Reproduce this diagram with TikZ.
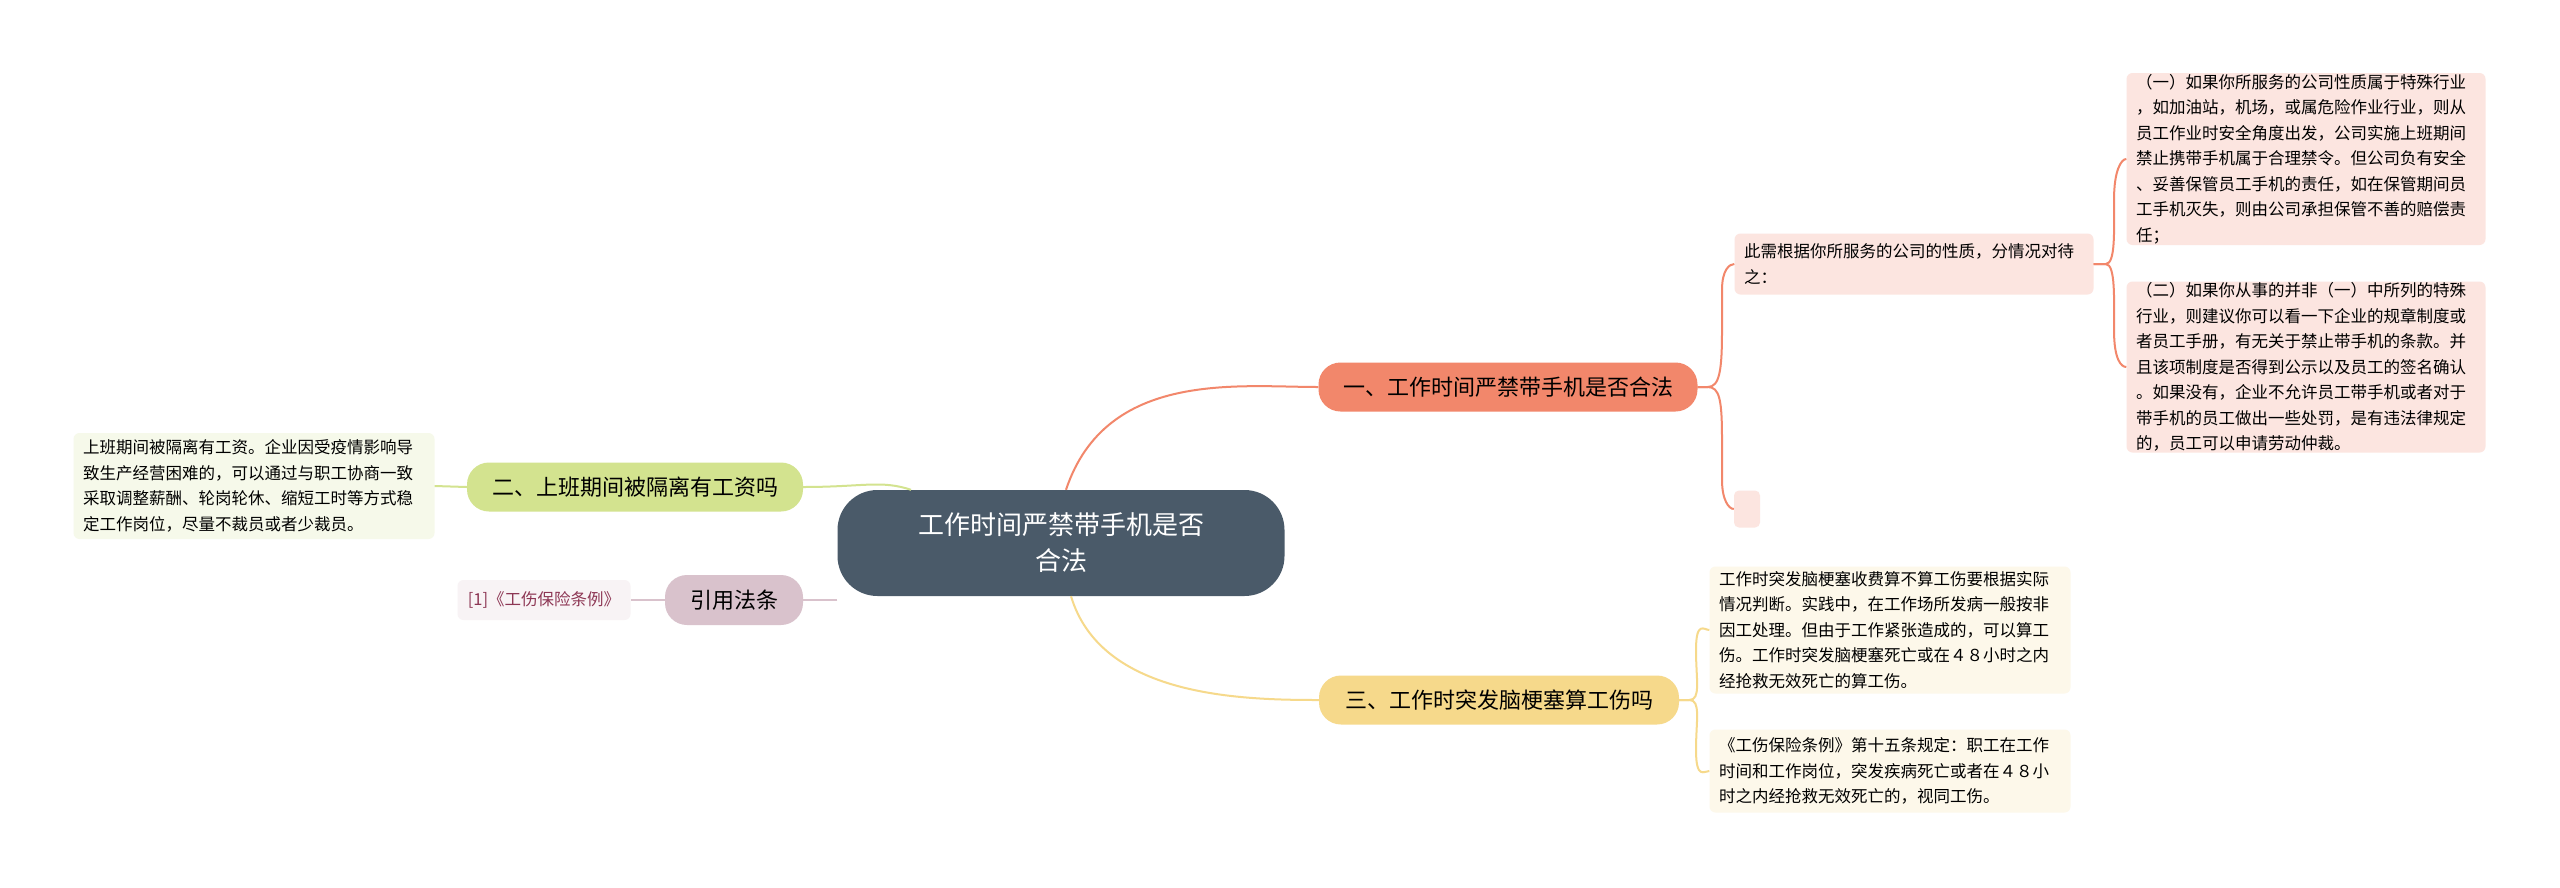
\documentclass[tikz,border=0pt]{standalone}
\usepackage{fontspec}
\setmainfont{Noto Sans CJK SC}
\begin{document}
\begin{tikzpicture}[x=1pt,y=-1pt,
 box/.style={rounded corners=6pt,inner sep=0pt,align=left,font=\fontsize{16.5}{25.5}\selectfont},
 br/.style={rounded corners=22pt,minimum height=49pt,inner xsep=18pt,font=\fontsize{22}{26}\selectfont},
 ln/.style={line width=2pt}]
\definecolor{c1}{HTML}{F2876B}\definecolor{c1l}{HTML}{FCE5E0}
\definecolor{c2}{HTML}{D3E38F}\definecolor{c2l}{HTML}{F6F9EA}
\definecolor{c3}{HTML}{F6D98B}\definecolor{c3l}{HTML}{FDF8EA}
\definecolor{c4}{HTML}{D9C2CC}\definecolor{c4l}{HTML}{F8F3F5}
\definecolor{cc}{HTML}{4A5A69}
\useasboundingbox (0,0) rectangle (2560,887);
\fill[white] (0,0) rectangle (2560,887);
% nodes
\node[fill=cc,text=white,rounded corners=40pt,minimum width=447pt,minimum height=106pt,align=center,font=\fontsize{26}{36}\selectfont] (c) at (1061,543) {工作时间严禁带手机是否\\合法};
\node[br,fill=c1,minimum width=379pt] (b1) at (1508,387) {一、工作时间严禁带手机是否合法};
\node[br,fill=c2,minimum width=336pt] (b2) at (635,487) {二、上班期间被隔离有工资吗};
\node[br,fill=c4,minimum width=138pt,minimum height=50pt] (b4) at (734,600) {引用法条};
\node[br,fill=c3,minimum width=360pt] (b3) at (1499,700) {三、工作时突发脑梗塞算工伤吗};
\node[box,fill=c1l,minimum width=359pt,minimum height=61pt,text width=340pt] (s1) at (1914,264) {此需根据你所服务的公司的性质，分情况对待\\之：};
\node[box,fill=c1l,minimum width=359pt,minimum height=172pt,text width=340pt] (l1) at (2306,159) {（一）如果你所服务的公司性质属于特殊行业\\，如加油站，机场，或属危险作业行业，则从\\员工作业时安全角度出发，公司实施上班期间\\禁止携带手机属于合理禁令。但公司负有安全\\、妥善保管员工手机的责任，如在保管期间员\\工手机灭失，则由公司承担保管不善的赔偿责\\任；};
\node[box,fill=c1l,minimum width=359pt,minimum height=171pt,text width=340pt] (l2) at (2306,367) {（二）如果你从事的并非（一）中所列的特殊\\行业，则建议你可以看一下企业的规章制度或\\者员工手册，有无关于禁止带手机的条款。并\\且该项制度是否得到公示以及员工的签名确认\\。如果没有，企业不允许员工带手机或者对于\\带手机的员工做出一些处罚，是有违法律规定\\的，员工可以申请劳动仲裁。};
\node[fill=c1l,rounded corners=5pt,minimum width=26pt,minimum height=37pt] (e1) at (1747,509) {};
\node[box,fill=c2l,minimum width=361pt,minimum height=106pt,text width=342pt] (l3) at (254,486) {上班期间被隔离有工资。企业因受疫情影响导\\致生产经营困难的，可以通过与职工协商一致\\采取调整薪酬、轮岗轮休、缩短工时等方式稳\\定工作岗位，尽量不裁员或者少裁员。};
\node[box,fill=c4l,minimum width=173pt,minimum height=40pt,align=center,text=c4!40!purple!70!black] (l4) at (544,600) {[1]《工伤保险条例》};
\node[box,fill=c3l,minimum width=361pt,minimum height=127pt,text width=342pt] (l5) at (1890,630) {工作时突发脑梗塞收费算不算工伤要根据实际\\情况判断。实践中，在工作场所发病一般按非\\因工处理。但由于工作紧张造成的，可以算工\\伤。工作时突发脑梗塞死亡或在４８小时之内\\经抢救无效死亡的算工伤。};
\node[box,fill=c3l,minimum width=361pt,minimum height=83pt,text width=342pt] (l6) at (1890,771) {《工伤保险条例》第十五条规定：职工在工作\\时间和工作岗位，突发疾病死亡或者在４８小\\时之内经抢救无效死亡的，视同工伤。};
% connectors
\begin{scope}[on background layer/.style={}]
\draw[ln,c1] ([xshift=5pt]c.north) .. controls +(40,-120) and +(-80,0) .. (b1.west);
\draw[ln,c2] ([xshift=-150pt]c.north) .. controls +(-30,-10) and +(60,0) .. (b2.east);
\draw[ln,c4] (c.west |- b4) -- (b4.east);
\draw[ln,c3] ([xshift=10pt]c.south) .. controls +(30,100) and +(-80,0) .. (b3.west);
\draw[ln,c1] (b1.east) -- ++(10,0) .. controls +(12,0) and +(0,40) .. (1722,330) -- (1722,290) .. controls +(0,-20) and +(-5,0) .. (s1.west);
\draw[ln,c1] (b1.east) -- ++(10,0) .. controls +(12,0) and +(0,-40) .. (1722,440) -- (1722,480) .. controls +(0,20) and +(-5,0) .. (e1.west);
\draw[ln,c1] (s1.east) -- ++(12,0) .. controls +(10,0) and +(0,30) .. (2114,200) .. controls +(0,-30) and +(-5,0) .. (l1.west);
\draw[ln,c1] (s1.east) -- ++(12,0) .. controls +(10,0) and +(0,-30) .. (2114,330) .. controls +(0,30) and +(-5,0) .. (l2.west);
\draw[ln,c2] (b2.west) -- (l3.east);
\draw[ln,c4] (b4.west) -- (l4.east);
\draw[ln,c3] (b3.east) -- ++(10,0) .. controls +(12,0) and +(0,30) .. (1696,650) .. controls +(0,-30) and +(-5,0) .. (l5.west);
\draw[ln,c3] (b3.east) -- ++(10,0) .. controls +(12,0) and +(0,-30) .. (1696,750) .. controls +(0,30) and +(-5,0) .. (l6.west);
\end{scope}
\end{tikzpicture}
\end{document}
